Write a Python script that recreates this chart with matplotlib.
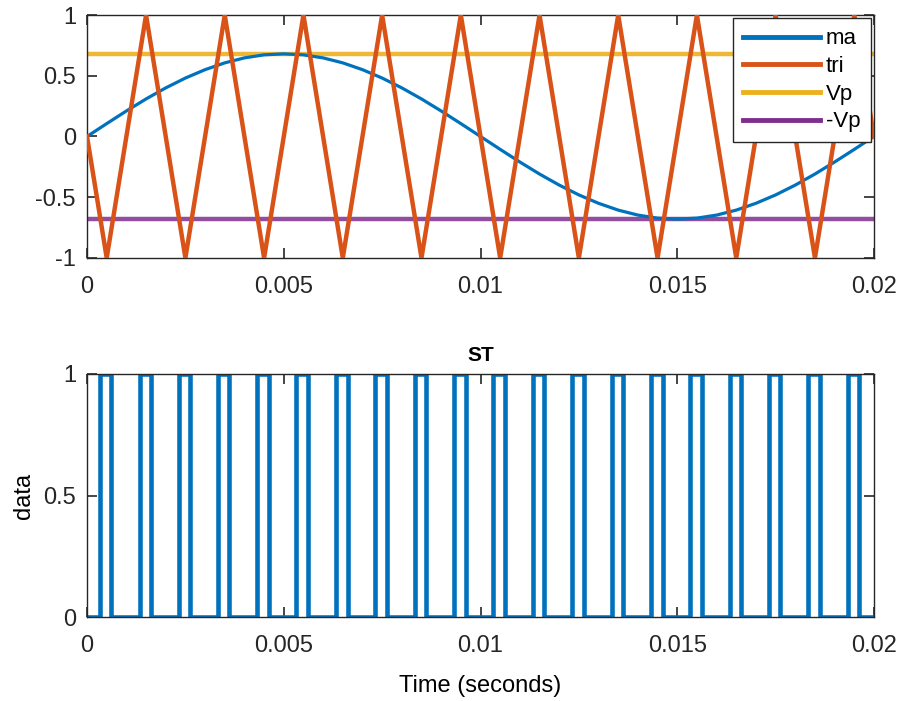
import numpy as np
import matplotlib
matplotlib.use("Agg")
import matplotlib.pyplot as plt

plt.rcParams['font.family'] = ['Liberation Sans', 'DejaVu Sans']

# ---- data ----
# ma: sine reference, sampled every 0.5 ms
t_ma = [0.0, 0.0005, 0.001, 0.0015, 0.002, 0.0025, 0.003, 0.0035, 0.004, 0.0045,
        0.005, 0.0055, 0.006, 0.0065, 0.007, 0.0075, 0.008, 0.0085, 0.009, 0.0095,
        0.01, 0.0105, 0.011, 0.0115, 0.012, 0.0125, 0.013, 0.0135, 0.014, 0.0145,
        0.015, 0.0155, 0.016, 0.0165, 0.017, 0.0175, 0.018, 0.0185, 0.019, 0.0195, 0.02]
ma = [0.0, 0.106, 0.21, 0.309, 0.40, 0.481, 0.55, 0.606, 0.647, 0.672,
      0.68, 0.672, 0.647, 0.606, 0.55, 0.481, 0.40, 0.309, 0.21, 0.106,
      0.0, -0.106, -0.21, -0.309, -0.40, -0.481, -0.55, -0.606, -0.647, -0.672,
      -0.68, -0.672, -0.647, -0.606, -0.55, -0.481, -0.40, -0.309, -0.21, -0.106, 0.0]

# tri: carrier vertices
t_tri = [0.0, 0.0005, 0.0015, 0.0025, 0.0035, 0.0045, 0.0055, 0.0065, 0.0075, 0.0085,
         0.0095, 0.0105, 0.0115, 0.0125, 0.0135, 0.0145, 0.0155, 0.0165, 0.0175,
         0.0185, 0.0195, 0.02]
tri = [0, -1, 1, -1, 1, -1, 1, -1, 1, -1, 1, -1, 1, -1, 1, -1, 1, -1, 1, -1, 1, 0]

Vp = 0.68

# ST: pulse edges (rise / fall times)
st_rise = [0.00034, 0.00134, 0.00234, 0.00333, 0.00433, 0.00532, 0.00633, 0.00733,
           0.00833, 0.00933, 0.01033, 0.01133, 0.01233, 0.01333, 0.01433, 0.01533,
           0.01633, 0.01733, 0.01833, 0.01933]
st_fall = [0.00062, 0.00162, 0.00262, 0.00362, 0.00463, 0.00561, 0.00662, 0.00763,
           0.00862, 0.00962, 0.01063, 0.01162, 0.01263, 0.01362, 0.01463, 0.01562,
           0.01663, 0.01762, 0.01863, 0.01962]

c_blue = '#0072BD'
c_orange = '#D95319'
c_yellow = '#EDB120'
c_purple = '#7E2F8E'
ax_col = '#262626'

fig = plt.figure(figsize=(9.01, 7.01), dpi=100)
ax1 = fig.add_axes([0.0966, 0.632, 0.8734, 0.3466])
ax2 = fig.add_axes([0.0966, 0.1198, 0.8734, 0.3467])

# top plot
ax1.plot(t_ma, ma, color=c_blue, lw=2.3, label='ma', zorder=3)
ax1.plot(t_tri, tri, color=c_orange, lw=3.2, label='tri', zorder=4)
ax1.plot([0, 0.02], [Vp, Vp], color=c_yellow, lw=3.2, alpha=0.9, label='Vp', zorder=2)
ax1.plot([0, 0.02], [-Vp, -Vp], color=c_purple, lw=3.2, alpha=0.85, label='-Vp', zorder=2)
ax1.set_xlim(0, 0.02)
ax1.set_ylim(-1, 1)
ax1.set_yticks([-1, -0.5, 0, 0.5, 1])
ax1.set_yticklabels(['-1', '-0.5', '0', '0.5', '1'])
leg = ax1.legend(loc='upper right', fontsize=16, frameon=True, fancybox=False,
                 framealpha=1, edgecolor=ax_col, handlelength=3.5,
                 borderpad=0.45, labelspacing=0.3, handletextpad=0.25,
                 borderaxespad=0.15)
leg.get_frame().set_linewidth(1.0)
for h in leg.get_lines():
    h.set_linewidth(3.5)
    h.set_alpha(1)

# bottom plot: build step trace from edges
st_t = [0.0]
st_v = [0]
for r, f in zip(st_rise, st_fall):
    st_t += [r, r, f, f]
    st_v += [0, 1, 1, 0]
st_t.append(0.02)
st_v.append(0)
ax2.plot(st_t, st_v, color=c_blue, lw=3.3)
ax2.set_xlim(0, 0.02)
ax2.set_ylim(0, 1)
ax2.set_yticks([0, 0.5, 1])
ax2.set_yticklabels(['0', '0.5', '1'])
ax2.set_title('ST', fontsize=15, fontweight='bold', pad=9)
ax2.set_ylabel('data', fontsize=17, labelpad=6)
ax2.set_xlabel('Time (seconds)', fontsize=17, labelpad=13)

for ax in (ax1, ax2):
    ax.set_xticks([0, 0.005, 0.01, 0.015, 0.02])
    ax.set_xticklabels(['0', '0.005', '0.01', '0.015', '0.02'])
    ax.tick_params(direction='in', length=7, width=1.2, top=True, right=True,
                   labelsize=17, colors=ax_col)
    ax.tick_params(axis='x', pad=13)
    ax.tick_params(axis='y', pad=8)
    for s in ax.spines.values():
        s.set_color(ax_col)
        s.set_linewidth(1.0)

fig.savefig('out.png', dpi=100)
